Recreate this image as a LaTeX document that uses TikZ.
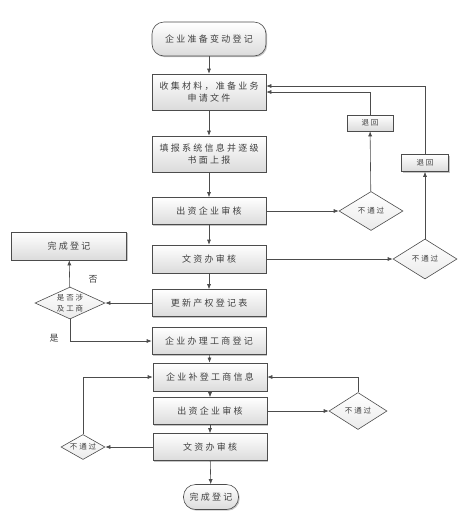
\documentclass[tikz,border=0pt]{standalone}
\usepackage{fontspec}
\newfontfamily\cjk[LetterSpace=25]{Noto Sans CJK SC}
\usetikzlibrary{shapes.geometric,shadows,arrows.meta}
\begin{document}
\begin{tikzpicture}[x=1pt,y=-1pt,->,>={Latex[length=5pt,width=4pt]},black!70,semithick,
    every node/.style={font=\cjk\fontsize{9}{12}\selectfont,text=black!75,align=center},
    box/.style={rectangle,draw=black!70,top color=white,bottom color=black!14,
      drop shadow={shadow xshift=1.2pt,shadow yshift=-1.2pt,fill=black!45},
      minimum width=114pt,minimum height=27pt,inner sep=1pt},
    term/.style={box,rounded corners=12pt,minimum height=34pt},
    dec/.style={diamond,draw=black!70,top color=white,bottom color=black!8,aspect=1.6,
      inner sep=0pt,minimum width=64pt,minimum height=39pt,
      font=\cjk\fontsize{7.5}{11}\selectfont},
    backbox/.style={box,minimum width=46pt,minimum height=16pt,
      font=\cjk\fontsize{7.5}{9}\selectfont}]
  \useasboundingbox (0,0) rectangle (468,523);
  % main column
  \node[term] (start) at (209,39) {企业准备变动登记};
  \node[box,minimum height=36pt] (b1) at (209,92) {收集材料，准备业务\\申请文件};
  \node[box,minimum height=36pt] (b2) at (209,154) {填报系统信息并逐级\\书面上报};
  \node[box] (b3) at (209,211) {出资企业审核};
  \node[box,minimum height=28pt] (b4) at (209,259) {文资办审核};
  \node[box] (b5) at (209,303) {更新产权登记表};
  \node[box] (b6) at (209,341) {企业办理工商登记};
  \node[box,minimum height=28pt] (b7) at (210,377) {企业补登工商信息};
  \node[box] (b8) at (210,411) {出资企业审核};
  \node[box] (b9) at (210,447) {文资办审核};
  \node[term,minimum width=55pt,minimum height=25pt] (end) at (211,497) {完成登记};
  % side branches
  \node[box,minimum width=115pt,minimum height=28pt] (done) at (69,246) {完成登记};
  \node[dec,minimum width=70pt,minimum height=32pt,inner sep=-5pt] (q) at (70,303) {是否涉\\及工商};
  \node[dec] (n1) at (371,211) {不通过};
  \node[dec,minimum height=40pt] (n2) at (425,259) {不通过};
  \node[dec,minimum width=58pt,minimum height=37pt] (n3) at (358,411) {不通过};
  \node[dec,minimum width=44pt,minimum height=25pt] (n4) at (83,447) {不通过};
  \node[backbox] (r1) at (370,123) {退回};
  \node[backbox,minimum width=47pt,minimum height=17pt] (r2) at (425,163) {退回};
  \node at (93,279) {否};
  \node at (54,338) {是};
  % connectors
  \draw (start) -- (b1);
  \draw (b1) -- (b2);
  \draw (b2) -- (b3);
  \draw (b3) -- (b4);
  \draw (b4) -- (b5);
  \draw (b6) -- (b7);
  \draw (b7) -- (b8);
  \draw (b8) -- (b9);
  \draw (b9) -- (end);
  \draw (b3) -- (n1);
  \draw (n1) -- (r1);
  \draw (r1) |- (b1.east);
  \draw (b4) -- (n2);
  \draw (n2) -- (r2);
  \draw (r2) |- ([yshift=6pt]b1.east);
  \draw (b5) -- (q);
  \draw (q) -- (done);
  \draw (q.south) |- (b6.west);
  \draw (b8) -- (n3);
  \draw (n3.north) |- (b7.east);
  \draw (b9) -- (n4);
  \draw (n4.north) |- (b7.west);
\end{tikzpicture}
\end{document}
